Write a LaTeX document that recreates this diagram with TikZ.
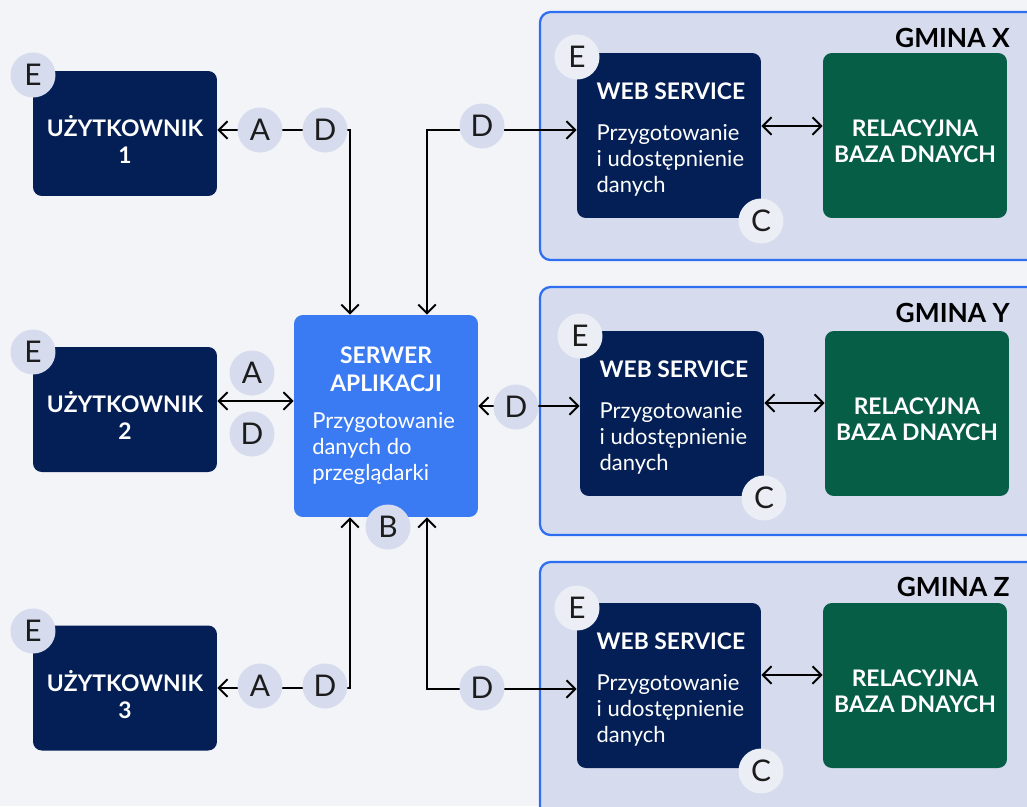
\documentclass[tikz,border=0pt]{standalone}
\usepackage{fontspec}
\setmainfont{Lato}
\usetikzlibrary{arrows.meta,calc}

\definecolor{bgcol}{HTML}{F3F4F8}
\definecolor{navy}{HTML}{041F55}
\definecolor{srvblue}{HTML}{3A7BF4}
\definecolor{dbgreen}{HTML}{075E47}
\definecolor{panelfill}{HTML}{D6DCEE}
\definecolor{panelline}{HTML}{2E6FF2}
\definecolor{tagfill}{HTML}{D6DCEE}
\definecolor{taglight}{HTML}{ECEEF6}
\definecolor{inktext}{HTML}{1C1C1C}

% invisible strut, pushes a centred block a little down
\newcommand{\topgap}[1]{\rule{0pt}{#1}}

\tikzset{
	box/.style={rounded corners=5pt, minimum width=3.68cm, inner sep=0pt, text=white, font=\fontsize{12.5}{15}\selectfont},
	userbox/.style={box, fill=navy, minimum height=2.5cm, align=center, font=\bfseries\fontsize{13}{15.5}\selectfont},
	srvbox/.style={box, fill=srvblue, minimum height=4.04cm, text width=2.95cm, align=flush left},
	wsbox/.style={box, fill=navy, minimum height=3.3cm, text width=3.35cm, align=flush left, execute at begin node={\leftskip=6.5pt}},
	dbbox/.style={box, fill=dbgreen, minimum height=3.3cm, align=center, font=\bfseries\fontsize{13}{15}\selectfont},
	panel/.style={draw=panelline, line width=1.3pt, fill=panelfill, rounded corners=6pt},
	tag/.style={circle, fill=tagfill, minimum size=0.9cm, inner sep=0pt, text=inktext, font=\fontsize{17}{17}\selectfont},
	taglt/.style={tag, fill=taglight},
	link/.style={line width=1.1pt, {Straight Barb[length=5pt,width=10pt]}-{Straight Barb[length=5pt,width=10pt]}},
	gmina/.style={anchor=east, inner sep=0pt, font=\bfseries\fontsize{15}{15}\selectfont}
}

\begin{document}
\begin{tikzpicture}[x=0.02cm,y=-0.02cm]
\useasboundingbox (0,0) rectangle (1027,806);
\clip (0,0) rectangle (1027,806);
\fill[bgcol] (0,0) rectangle (1027,806);

%gmina panels
\draw[panel] (540,12) rectangle (1040,260);
\draw[panel] (540,287) rectangle (1040,535);
\draw[panel] (540,562) rectangle (1040,830);
\node[gmina] (gx) at (1010,38) {GMINA X};
\node[gmina] (gy) at (1010,313) {GMINA Y};
\node[gmina] (gz) at (1010,587) {GMINA Z};

%users
\node[userbox] (u1) at (125,133.5) {\topgap{19pt}UŻYTKOWNIK\\1};
\node[userbox] (u2) at (125,409.5) {\topgap{19pt}UŻYTKOWNIK\\2};
\node[userbox] (u3) at (125,688) {\topgap{19pt}UŻYTKOWNIK\\3};

%server
\node[srvbox] (srv) at (386,416) {{\centering\bfseries\fontsize{13}{15.5}\selectfont SERWER\\APLIKACJI\par}\vspace{6pt}Przygotowanie\\danych do\\przeglądarki};

%web services
\node[wsbox] (wsx) at (669,135.5) {{\bfseries\fontsize{13}{15}\selectfont\topgap{14.5pt}WEB~SERVICE}\\[8pt]Przygotowanie\\i~udostępnienie\\danych};
\node[wsbox] (wsy) at (672,413.5) {{\bfseries\fontsize{13}{15}\selectfont\topgap{14.5pt}WEB~SERVICE}\\[8pt]Przygotowanie\\i~udostępnienie\\danych};
\node[wsbox] (wsz) at (669,685.5) {{\bfseries\fontsize{13}{15}\selectfont\topgap{14.5pt}WEB~SERVICE}\\[8pt]Przygotowanie\\i~udostępnienie\\danych};

%databases
\node[dbbox] (dbx) at (915,135.5) {\topgap{16pt}RELACYJNA\\BAZA DNAYCH};
\node[dbbox] (dby) at (917,413.5) {\topgap{16pt}RELACYJNA\\BAZA DNAYCH};
\node[dbbox] (dbz) at (915,685.5) {\topgap{16pt}RELACYJNA\\BAZA DNAYCH};

%connectors
\draw[link] ($(srv.north)+(-36,0)$) |- ($(u1.east)+(0,-3.5)$);
\draw[link] ($(srv.north)+(41,0)$) |- ($(wsx.west)+(0,-5.5)$);
\draw[link] ($(u2.east)+(0,-8.5)$) -- ($(srv.west)+(0,-15)$);
\draw[link] ($(srv.east)+(0,-10)$) -- ($(wsy.west)+(0,-7.5)$);
\draw[link] ($(srv.south)+(-36,0)$) |- (u3.east);
\draw[link] ($(srv.south)+(41,0)$) |- ($(wsz.west)+(0,3.5)$);
\draw[link] ($(wsx.east)+(0,-9.5)$) -- ($(dbx.west)+(0,-9.5)$);
\draw[link] ($(wsy.east)+(0,-10.5)$) -- ($(dby.west)+(0,-10.5)$);
\draw[link] ($(wsz.east)+(0,-10.5)$) -- ($(dbz.west)+(0,-10.5)$);

%letter tags
\node[tag] (eu1) at (33,75) {E};
\node[tag] (eu2) at (33,352) {E};
\node[tag] (eu3) at (33,631) {E};
\node[tag] (a1) at (260,130) {A};
\node[tag] (d1) at (325,130) {D};
\node[tag] (a2) at (252,373) {A};
\node[tag] (d2) at (252,434) {D};
\node[tag] (a3) at (260,686) {A};
\node[tag] (d3) at (325,686) {D};
\node[tag] (dx) at (482,126) {D};
\node[tag] (dy) at (516,407) {D};
\node[tag] (dz) at (482,688) {D};
\node[tag] (b) at (388,527) {B};
\node[taglt] (ex) at (577,57) {E};
\node[taglt] (ey) at (580,336) {E};
\node[taglt] (ez) at (577,608) {E};
\node[taglt] (cx) at (761,221) {C};
\node[taglt] (cy) at (764,498) {C};
\node[taglt] (cz) at (761,771) {C};
\end{tikzpicture}
\end{document}
